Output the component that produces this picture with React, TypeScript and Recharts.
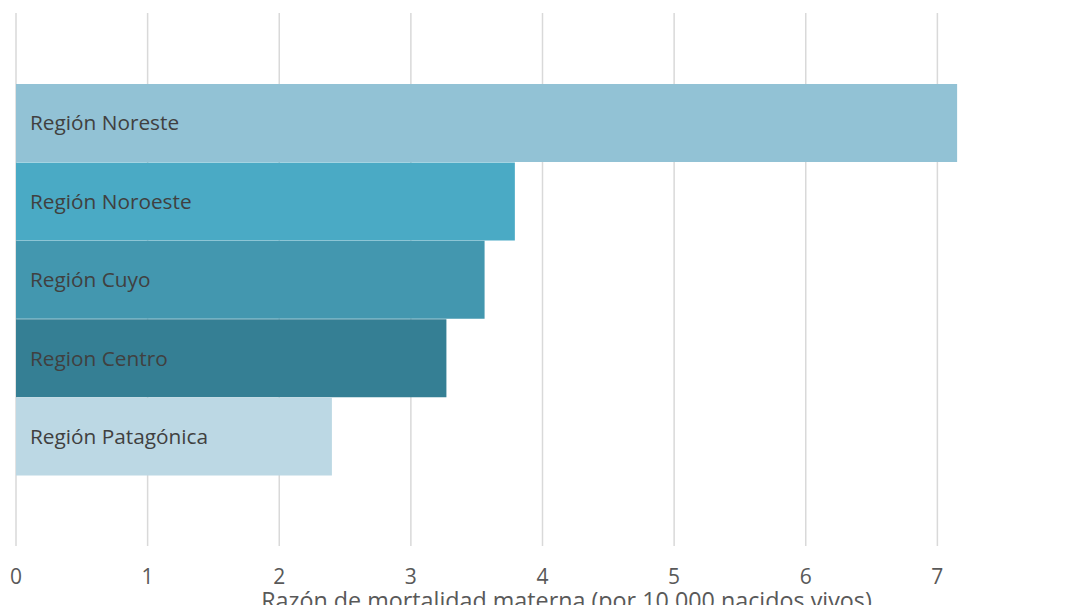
import { BarChart, Bar, XAxis, YAxis, CartesianGrid, Cell, LabelList, Label } from "recharts";

const regions = [
  "Región Noreste",
  "Región Noroeste",
  "Región Cuyo",
  "Region Centro",
  "Región Patagónica",
];
const ratios = [7.15, 3.79, 3.56, 3.27, 2.4];
const barColors = ["#92C2D5", "#4AAAC5", "#4397AF", "#357F94", "#BCD8E4"];
const xTicks = [0, 1, 2, 3, 4, 5, 6, 7, 8];
const xTitle = "Razón de mortalidad materna (por 10.000 nacidos vivos)";

const data = regions.map((name, i) => ({ name, value: ratios[i] }));

const FONT = "'Open Sans', sans-serif";

const AxisTitle = ({ viewBox }: any) => (
  <text
    x={viewBox.x + viewBox.width / 2 + 24}
    y={viewBox.y + 63}
    textAnchor="middle"
    fill="#595959"
    fontSize={23.3}
    fontFamily={FONT}
  >
    {xTitle}
  </text>
);

const App = () => {
  return (
    <div
      style={{
        margin: -8,
        width: 1067,
        height: 613,
        overflow: "hidden",
        background: "#fff",
      }}
    >
      <BarChart
        width={1100}
        height={613}
        data={data}
        layout="vertical"
        barCategoryGap={0}
        margin={{ top: 13, right: 31, bottom: 0, left: 16 }}
      >
        <CartesianGrid horizontal={false} stroke="#D9D9D9" strokeWidth={1.5} />
        <XAxis
          type="number"
          domain={[0, 8]}
          ticks={xTicks}
          interval={0}
          axisLine={false}
          tickLine={false}
          tickSize={0}
          tickMargin={23}
          height={67}
          tick={{ fill: "#595959", fontSize: 21, fontFamily: FONT }}
        >
          <Label content={<AxisTitle />} />
        </XAxis>
        <YAxis
          type="category"
          dataKey="name"
          hide
          padding={{ top: 71, bottom: 70 }}
        />
        <Bar dataKey="value" isAnimationActive={false}>
          {data.map((entry, i) => (
            <Cell key={entry.name} fill={barColors[i]} />
          ))}
          <LabelList
            dataKey="name"
            position="insideLeft"
            offset={14}
            fill="#404040"
            fontSize={20.8}
            fontFamily={FONT}
          />
        </Bar>
      </BarChart>
    </div>
  );
};

export default App;
